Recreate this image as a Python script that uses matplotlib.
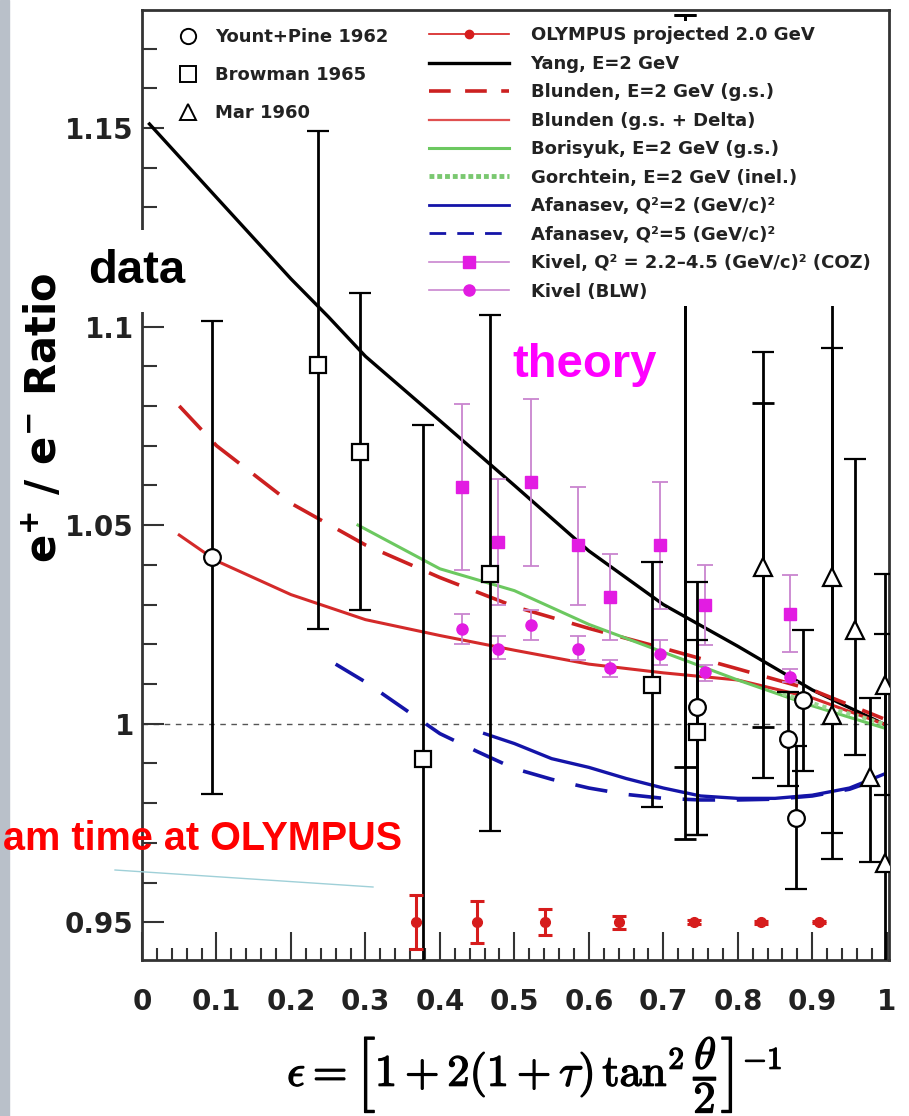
# -*- encoding: utf-8 -*-
"""
e+/e- ratio vs epsilon: old data, theory curves and OLYMPUS projection
"""
import matplotlib
matplotlib.use('Agg')
import matplotlib.pyplot as plt
import matplotlib.patheffects as pe
from matplotlib.lines import Line2D
from matplotlib.patches import Rectangle
from matplotlib.ticker import MultipleLocator, FuncFormatter

plt.rcParams['font.family'] = ['DejaVu Sans']
plt.rcParams['font.weight'] = 'bold'

# ----------------------------------------------------------------------
# theory curves
yang_x = [0.01, 0.10, 0.20, 0.25, 0.30, 0.40, 0.50, 0.60, 0.70, 0.80, 0.90, 0.995]
yang_y = [1.151, 1.1325, 1.1120, 1.1025, 1.0925, 1.0763, 1.0600, 1.0435, 1.0300, 1.0195, 1.0085, 1.0000]

blunden_x = [0.05, 0.10, 0.20, 0.30, 0.40, 0.50, 0.60, 0.70, 0.80, 0.90, 0.995]
blunden_gs_y = [1.0800, 1.0700, 1.0555, 1.0450, 1.0368, 1.0295, 1.0240, 1.0190, 1.0138, 1.0085, 1.0013]
blunden_delta_y = [1.0475, 1.0410, 1.0325, 1.0262, 1.0222, 1.0185, 1.0150, 1.0128, 1.0110, 1.0065, 1.0000]

borisyuk_x = [0.29, 0.35, 0.40, 0.50, 0.60, 0.70, 0.80, 0.90, 0.995]
borisyuk_y = [1.0500, 1.0440, 1.0390, 1.0335, 1.0250, 1.0180, 1.0110, 1.0045, 0.9990]

gorchtein_x = [0.86, 0.92, 0.96, 0.995]
gorchtein_y = [1.0075, 1.0040, 1.0020, 1.0000]

afanasev2_x = [0.46, 0.50, 0.55, 0.60, 0.65, 0.70, 0.75, 0.80, 0.85, 0.90, 0.95, 0.995]
afanasev2_y = [0.9975, 0.9950, 0.9912, 0.9890, 0.9862, 0.9838, 0.9818, 0.9812, 0.9812, 0.9820, 0.9838, 0.9872]

afanasev5_x = [0.26, 0.30, 0.35, 0.40, 0.45, 0.50, 0.55, 0.60, 0.65, 0.70, 0.75, 0.80, 0.85, 0.90, 0.95, 0.995]
afanasev5_y = [1.0150, 1.0105, 1.0040, 0.9975, 0.9930, 0.9887, 0.9860, 0.9838, 0.9822, 0.9812,
               0.9808, 0.9808, 0.9810, 0.9818, 0.9835, 0.9865]

# Kivel points with error bars
kivel_x = [0.429, 0.478, 0.522, 0.585, 0.628, 0.695, 0.756, 0.870]
coz_y = [1.0596, 1.0457, 1.0608, 1.0450, 1.0319, 1.0450, 1.0300, 1.0276]
coz_lo = [1.0387, 1.0298, 1.0397, 1.0300, 1.0211, 1.0289, 1.0198, 1.0180]
coz_hi = [1.0804, 1.0616, 1.0817, 1.0595, 1.0427, 1.0608, 1.0400, 1.0374]
blw_y = [1.0239, 1.0188, 1.0249, 1.0188, 1.0141, 1.0176, 1.0131, 1.0118]
blw_lo = [1.0201, 1.0163, 1.0211, 1.0161, 1.0118, 1.0148, 1.0108, 1.0106]
blw_hi = [1.0276, 1.0221, 1.0286, 1.0221, 1.0161, 1.0211, 1.0148, 1.0138]

# ----------------------------------------------------------------------
# measured data
yount_x = [0.094, 0.745, 0.867, 0.878, 0.887]
yount_y = [1.0420, 1.0043, 0.9962, 0.9762, 1.0060]
yount_lo = [0.9822, 0.9720, 0.9842, 0.9583, 0.9880]
yount_hi = [1.1015, 1.0357, 1.0080, 0.9945, 1.0236]

browman_x = [0.236, 0.293, 0.377, 0.467, 0.685, 0.745]
browman_y = [1.0902, 1.0684, 0.9912, 1.0377, 1.0098, 0.9980]
browman_lo = [1.0239, 1.0286, 0.9300, 0.9729, 0.9791, 0.9720]
browman_hi = [1.1493, 1.1085, 1.0751, 1.1028, 1.0407, 1.0210]

mar_x = [0.834, 0.926, 0.926, 0.957, 0.977, 0.998, 0.998]
mar_y = [1.0394, 1.0370, 1.0023, 1.0236, 0.9867, 1.0098, 0.9648]
mar_lo = [0.9862, 0.9725, 0.9660, 0.9920, 0.9653, 0.9820, 0.9300]
mar_hi = [1.0937, 1.1200, 1.0945, 1.0666, 1.0065, 1.0377, 1.0226]

# bars whose markers are hidden under other points
bare_x = [0.729, 0.729, 0.834]
bare_lo = [0.9710, 0.9890, 0.9992]
bare_hi = [1.1784, 1.1784, 1.0807]

# OLYMPUS projection
olympus_x = [0.368, 0.450, 0.541, 0.640, 0.741, 0.831, 0.909]
olympus_y = [0.95, 0.95, 0.95, 0.95, 0.95, 0.95, 0.95]
olympus_err = [0.0068, 0.0053, 0.0033, 0.0016, 0.0005, 0.0004, 0.0003]

W, H = 909, 1116


def fx(px):
    return px / W


def fy(py):
    return 1 - py / H


fig = plt.figure(figsize=(W / 100, H / 100), dpi=100)
fig.add_artist(Rectangle((0, 0), fx(9), 1, transform=fig.transFigure,
                         color='#b9c0c9', zorder=0))

ax = fig.add_axes([fx(142), fy(960), fx(889 - 142), (960 - 10) / H])
ax.set_xlim(0, 1.003)
ax.set_ylim(0.9405, 1.1797)

for s in ax.spines.values():
    s.set_linewidth(2)
    s.set_color('#333333')

ax.xaxis.set_major_locator(MultipleLocator(0.1))
ax.xaxis.set_minor_locator(MultipleLocator(0.02))
ax.yaxis.set_major_locator(MultipleLocator(0.05))
ax.yaxis.set_minor_locator(MultipleLocator(0.01))
ax.xaxis.set_major_formatter(FuncFormatter(lambda v, p: '%g' % round(v, 2)))
ax.yaxis.set_major_formatter(FuncFormatter(lambda v, p: '%g' % round(v, 2)))
ax.tick_params(which='both', direction='in', color='#333333', width=1.5)
ax.tick_params(axis='x', which='major', length=20, pad=20, labelsize=20)
ax.tick_params(axis='x', which='minor', length=9)
ax.tick_params(axis='y', which='major', length=16, pad=6, labelsize=20)
ax.tick_params(axis='y', which='minor', length=11)
for lab in ax.get_xticklabels() + ax.get_yticklabels():
    lab.set_fontweight('bold')
    lab.set_color('#222222')

ax.axhline(1.0, color='#555555', lw=1, ls=(0, (4, 4)), zorder=1)

# theory curves
ax.plot(yang_x, yang_y, color='black', lw=2.4, zorder=3)
ax.plot(blunden_x, blunden_gs_y, color='#cc2020', lw=2.6, ls=(0, (9, 5)), zorder=3)
ax.plot(blunden_x, blunden_delta_y, color='#d42a2a', lw=2.2, zorder=3)
ax.plot(borisyuk_x, borisyuk_y, color='#6cc860', lw=2.2, zorder=3)
ax.plot(gorchtein_x, gorchtein_y, color='#9ad890', lw=3, ls=(0, (1, 1)), zorder=3)
ax.plot(afanasev2_x, afanasev2_y, color='#1414a8', lw=2.4, zorder=3)
ax.plot(afanasev5_x, afanasev5_y, color='#1414a8', lw=2.6, ls=(0, (9, 6)), zorder=3)

# Kivel points
kivel_kw = dict(ecolor='#c985cf', elinewidth=1.3, capsize=6, capthick=1.3,
                color='#e21ce2', ls='none', zorder=4)
ax.errorbar(kivel_x, coz_y,
            yerr=[[y - l for y, l in zip(coz_y, coz_lo)], [h - y for y, h in zip(coz_y, coz_hi)]],
            marker='s', ms=8, **kivel_kw)
ax.errorbar(kivel_x, blw_y,
            yerr=[[y - l for y, l in zip(blw_y, blw_lo)], [h - y for y, h in zip(blw_y, blw_hi)]],
            marker='o', ms=8, **kivel_kw)

# data
data_kw = dict(ls='none', mfc='white', mec='black', mew=1.6, ecolor='black',
               elinewidth=2.0, capsize=8, capthick=2.0, zorder=5)
ax.errorbar(yount_x, yount_y,
            yerr=[[y - l for y, l in zip(yount_y, yount_lo)], [h - y for y, h in zip(yount_y, yount_hi)]],
            marker='o', ms=12, **data_kw)
ax.errorbar(browman_x, browman_y,
            yerr=[[y - l for y, l in zip(browman_y, browman_lo)], [h - y for y, h in zip(browman_y, browman_hi)]],
            marker='s', ms=12, **data_kw)
ax.errorbar(mar_x, mar_y,
            yerr=[[y - l for y, l in zip(mar_y, mar_lo)], [h - y for y, h in zip(mar_y, mar_hi)]],
            marker='^', ms=13, **data_kw)
bare_mid = [(l + h) / 2 for l, h in zip(bare_lo, bare_hi)]
ax.errorbar(bare_x, bare_mid, yerr=[[m - l for m, l in zip(bare_mid, bare_lo)],
                                    [h - m for m, h in zip(bare_mid, bare_hi)]],
            fmt='none', ecolor='black', elinewidth=2.0, capsize=8, capthick=2.0, zorder=5)

# OLYMPUS projection
ax.errorbar(olympus_x, olympus_y, yerr=olympus_err, ls='none', marker='o', ms=7,
            color='#d61c1c', elinewidth=2.2, capsize=5, capthick=2.2, zorder=6)

# legends
left_handles = [
    Line2D([], [], ls='none', marker='o', mfc='white', mec='black', mew=1.4, ms=11),
    Line2D([], [], ls='none', marker='s', mfc='white', mec='black', mew=1.4, ms=11),
    Line2D([], [], ls='none', marker='^', mfc='white', mec='black', mew=1.4, ms=12),
]
left_labels = ['Yount+Pine 1962', 'Browman 1965', 'Mar 1960']
leg1 = ax.legend(left_handles, left_labels, loc='upper left',
                 bbox_to_anchor=(fx(179), fy(28)), bbox_transform=fig.transFigure,
                 frameon=False, fontsize=13, handlelength=1.0, handletextpad=1.0,
                 labelspacing=1.12, borderpad=0, borderaxespad=0)
for t in leg1.get_texts():
    t.set_color('#222222')
ax.add_artist(leg1)

right_handles = [
    Line2D([], [], color='#d61c1c', lw=1.2, marker='o', ms=6),
    Line2D([], [], color='black', lw=2.4),
    Line2D([], [], color='#cc2020', lw=2.6, ls=(0, (6, 4))),
    Line2D([], [], color='#e05050', lw=1.6),
    Line2D([], [], color='#6cc860', lw=2.2),
    Line2D([], [], color='#7ac870', lw=3.5, ls=(0, (1, 0.6))),
    Line2D([], [], color='#1414a8', lw=2.0),
    Line2D([], [], color='#1414a8', lw=2.0, ls=(0, (6, 4))),
    Line2D([], [], color='#c985cf', lw=1.2, marker='s', ms=8, mfc='#e21ce2', mec='#e21ce2'),
    Line2D([], [], color='#c985cf', lw=1.2, marker='o', ms=8, mfc='#e21ce2', mec='#e21ce2'),
]
right_labels = [
    'OLYMPUS projected 2.0 GeV',
    'Yang, E=2 GeV',
    'Blunden, E=2 GeV (g.s.)',
    'Blunden (g.s. + Delta)',
    'Borisyuk, E=2 GeV (g.s.)',
    'Gorchtein, E=2 GeV (inel.)',
    'Afanasev, Q²=2 (GeV/c)²',
    'Afanasev, Q²=5 (GeV/c)²',
    'Kivel, Q² = 2.2–4.5 (GeV/c)² (COZ)',
    'Kivel (BLW)',
]
leg2 = ax.legend(right_handles, right_labels, loc='upper left',
                 bbox_to_anchor=(fx(424), fy(21)), bbox_transform=fig.transFigure,
                 frameon=True, facecolor='white', edgecolor='none', framealpha=1,
                 fancybox=False, fontsize=13, handlelength=4.4, handletextpad=1.2,
                 labelspacing=0.58, borderpad=0.3, borderaxespad=0)
leg2.set_zorder(10)
for t in leg2.get_texts():
    t.set_color('#222222')

# axis labels
fig.text(fx(44), fy(418), r'e$^{\mathbf{+}}$ / e$^{\mathbf{-}}$ Ratio', rotation=90,
         fontsize=30, fontweight='bold', ha='center', va='center')
fig.text(fx(535), fy(1076),
         r'$\epsilon = \left[1+2(1+\tau)\,\tan^2\dfrac{\theta}{2}\right]^{-1}$',
         fontsize=32, ha='center', va='center', math_fontfamily='cm',
         path_effects=[pe.withStroke(linewidth=1.0, foreground='black')])

# overlay annotations
fig.text(fx(88), fy(283), 'data', family=['Liberation Sans', 'DejaVu Sans'], fontsize=34,
         fontweight='bold', color='black', va='baseline', ha='left',
         bbox=dict(boxstyle='square,pad=0.4', fc='white', ec='none'))
fig.text(fx(512), fy(377), 'theory', family=['Liberation Sans', 'DejaVu Sans'], fontsize=34,
         fontweight='bold', color='#ff00ff', va='baseline', ha='left')
fig.text(fx(3), fy(850), 'am time at OLYMPUS', family=['Liberation Sans', 'DejaVu Sans'],
         fontsize=28.5, fontweight='bold', color='#ff0000', va='baseline', ha='left')
fig.add_artist(Line2D([fx(115), fx(373)], [fy(870), fy(887)], color='#9fd0d8', lw=1))

fig.savefig('out.png', dpi=100)
